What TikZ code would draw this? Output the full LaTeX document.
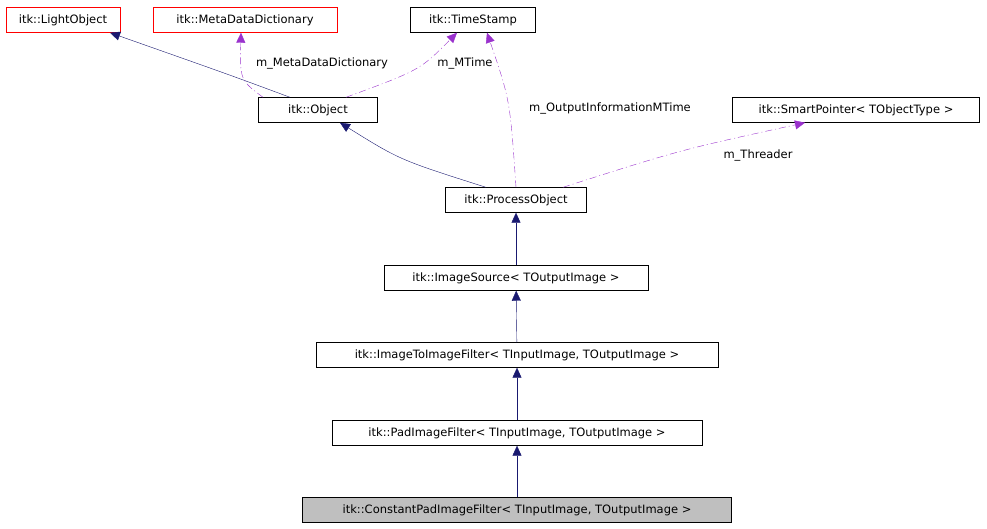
\documentclass[tikz,border=0pt]{standalone}
\usepackage{fontspec}
\setmainfont{DejaVu Sans}
\usetikzlibrary{arrows.meta}
\definecolor{navy}{HTML}{191970}
\definecolor{orchid}{HTML}{9A32CD}
\begin{document}
\begin{tikzpicture}
      [x = 1pt, y = -1pt,
      box/.style= {
         draw,
         font = \fontsize{11.5}{13}\selectfont,
         minimum height = 25pt,
         inner xsep = 5pt,
         inner ysep = 0pt
      },
      redbox/.style= {box, draw = red},
      inherit/.style= {navy, -{Triangle[length=10pt,width=9pt]}},
      member/.style= {orchid, dash pattern = on 7pt off 3pt on 1pt off 3pt,
         -{Triangle[length=10pt,width=9pt]}},
      lbl/.style= {font = \fontsize{11.5}{13}\selectfont}]

      \useasboundingbox (0, 0) rectangle (987, 528);

      \node[redbox, minimum width = 114pt] (light) at (63, 20) {itk::LightObject};
      \node[redbox, minimum width = 184pt] (meta) at (245, 20) {itk::MetaDataDictionary};
      \node[box, minimum width = 125pt] (stamp) at (473, 20) {itk::TimeStamp};
      \node[box, minimum width = 119pt] (object) at (318, 110) {itk::Object};
      \node[box, minimum width = 247pt] (smart) at (856, 110) {itk::SmartPointer< TObjectType >};
      \node[box, minimum width = 141pt] (process) at (516, 200) {itk::ProcessObject};
      \node[box, minimum width = 264pt] (source) at (516, 278) {itk::ImageSource< TOutputImage >};
      \node[box, minimum width = 402pt] (i2i) at (517, 355) {itk::ImageToImageFilter< TInputImage, TOutputImage >};
      \node[box, minimum width = 370pt] (pad) at (517, 433) {itk::PadImageFilter< TInputImage, TOutputImage >};
      \node[box, fill = black!25, minimum width = 429pt] (cpad) at (517, 510) {itk::ConstantPadImageFilter< TInputImage, TOutputImage >};

      \draw[inherit] (object.north) ++(-28, 0) .. controls (230, 75) .. (light.south -| 110, 0);
      \draw[member] (object.north) ++(-55, 0) .. controls (240, 80) .. (meta.south -| 241, 0);
      \draw[member] (object.north) ++(28, 0) .. controls (420, 70) .. (stamp.south -| 457, 0);
      \draw[inherit] (process.north) ++(-30, 0) .. controls (400, 160) .. (object.south -| 340, 0);
      \draw[member] (process.north) .. controls (510, 100) .. (stamp.south -| 487, 0);
      \draw[member] (process.north) ++(47, 0) .. controls (680, 150) .. (smart.south -| 805, 0);
      \draw[inherit] (source) -- (process);
      \draw[inherit] (i2i) -- (source);
      \draw[inherit] (pad) -- (i2i);
      \draw[inherit] (cpad) -- (pad);

      \node[lbl] (lmeta) at (322, 63) {m\_MetaDataDictionary};
      \node[lbl] (ltime) at (465, 63) {m\_MTime};
      \node[lbl] (linfo) at (610, 108) {m\_OutputInformationMTime};
      \node[lbl] (lthr) at (758, 155) {m\_Threader};

   \end{tikzpicture}
\end{document}
